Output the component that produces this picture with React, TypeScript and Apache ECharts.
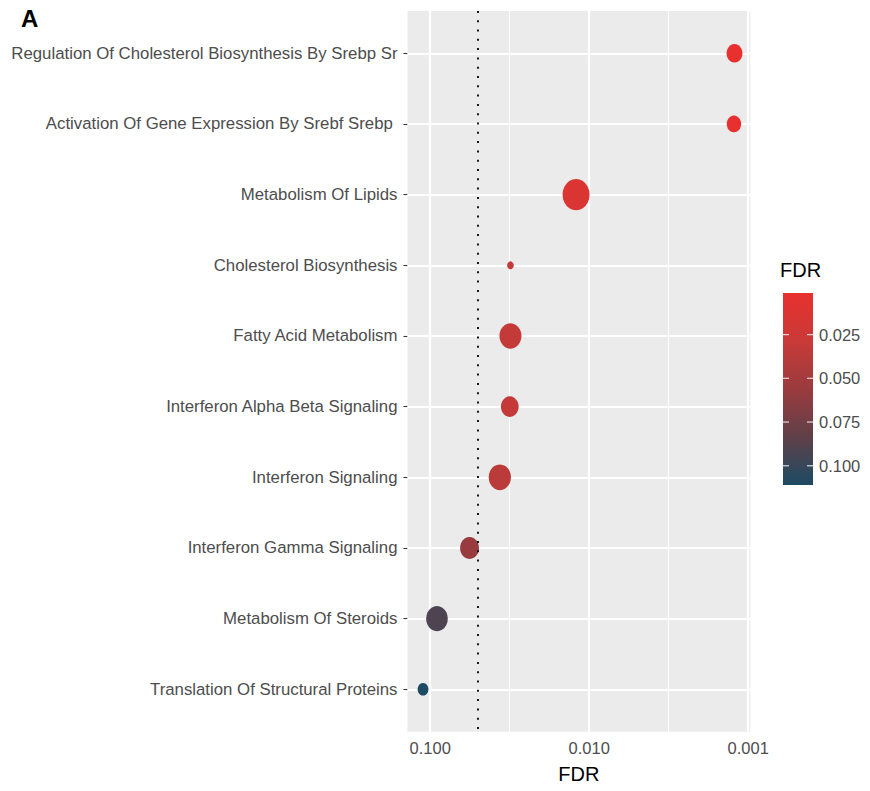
import React, { useEffect, useRef } from "react";
import * as echarts from "echarts";

// ---------- data ----------
const categories: string[] = [
  "Regulation Of Cholesterol Biosynthesis By Srebp Sr",
  "Activation Of Gene Expression By Srebf Srebp ",
  "Metabolism Of Lipids",
  "Cholesterol Biosynthesis",
  "Fatty Acid Metabolism",
  "Interferon Alpha Beta Signaling",
  "Interferon Signaling",
  "Interferon Gamma Signaling",
  "Metabolism Of Steroids",
  "Translation Of Structural Proteins",
];
const fdrValues: number[] = [0.00122, 0.00123, 0.0121, 0.0313, 0.0313, 0.0316, 0.0365, 0.0566, 0.0907, 0.111];
const geneCounts: number[] = [28, 23, 81, 5, 54, 35, 55, 40, 52, 13];
const xTickValues: number[] = [0.1, 0.01, 0.001];
const xMinorValues: number[] = [0.0316, 0.00316];
const fdrThreshold = 0.05;
const colorbarTicks: number[] = [0.025, 0.05, 0.075, 0.1];
const colorStops: string[] = ["#E8312F", "#C83A38", "#9A3B3E", "#604049", "#1C4B63"];

// ---------- helpers ----------
const negLog = (v: number) => -Math.log10(v);
const cMin = Math.min(...fdrValues);
const cMax = Math.max(...fdrValues);
const FONT = "'Liberation Sans', Arial, sans-serif";

export default function App() {
  const ref = useRef<HTMLDivElement>(null);
  useEffect(() => {
    if (!ref.current) return;
    const chart = echarts.init(ref.current, undefined, { renderer: "svg" });
    const points = fdrValues.map((f, i) => [negLog(f), i, f, geneCounts[i]]);
    const option: any = {
      animation: false,
      backgroundColor: "#ffffff",
      textStyle: { fontFamily: FONT },
      grid: [
        { left: 407.5, top: 10.9, width: 342.8, height: 720.8, show: true, backgroundColor: "#EBEBEB", borderWidth: 0 },
        { left: 783, top: 293, width: 30, height: 192, show: false },
      ],
      xAxis: [
        {
          type: "value",
          gridIndex: 0,
          min: 0.857,
          max: 3.013,
          name: "FDR",
          nameLocation: "middle",
          nameGap: 32,
          nameTextStyle: { color: "#000000", fontSize: 20, fontFamily: FONT },
          axisLine: { show: false },
          axisTick: { show: true, length: 4, lineStyle: { color: "#333333", width: 1.1 }, customValues: xTickValues.map(negLog) },
          axisLabel: {
            customValues: xTickValues.map(negLog),
            formatter: (v: number) => Math.pow(10, -v).toFixed(3),
            color: "#4D4D4D",
            fontSize: 16.5,
            margin: 8,
            fontFamily: FONT,
          },
          splitLine: { show: false },
        },
        { type: "value", gridIndex: 1, show: false, min: 0, max: 1 },
      ],
      yAxis: [
        {
          type: "value",
          gridIndex: 0,
          min: -0.6,
          max: categories.length - 1 + 0.6,
          inverse: true,
          axisLine: { show: false },
          axisTick: { show: true, length: 4, lineStyle: { color: "#333333", width: 1.1 }, customValues: categories.map((_, i) => i) },
          axisLabel: {
            customValues: categories.map((_, i) => i),
            formatter: (v: number) => categories[Math.round(v)],
            color: "#4D4D4D",
            fontSize: 16.8,
            margin: 10,
            fontFamily: FONT,
          },
          splitLine: { show: false },
        },
        {
          type: "value",
          gridIndex: 1,
          position: "right",
          min: cMin,
          max: cMax,
          inverse: true,
          axisLine: { show: false },
          axisTick: { show: false },
          axisLabel: {
            customValues: colorbarTicks,
            formatter: (v: number) => v.toFixed(3),
            color: "#4D4D4D",
            fontSize: 16.5,
            margin: 6,
            fontFamily: FONT,
          },
          splitLine: { show: false },
        },
      ],
      visualMap: {
        type: "continuous",
        show: false,
        min: cMin,
        max: cMax,
        dimension: 2,
        seriesIndex: 0,
        inRange: { color: colorStops },
      },
      graphic: [
        { type: "text", left: 21, top: 6, style: { text: "A", font: `bold 24px ${FONT}`, fill: "#000000" } },
        { type: "text", left: 780, top: 260, style: { text: "FDR", font: `20px ${FONT}`, fill: "#000000" } },
      ],
      series: [
        {
          type: "scatter",
          xAxisIndex: 0,
          yAxisIndex: 0,
          z: 5,
          data: points,
          symbol: "circle",
          symbolSize: (val: number[]) => {
            const d = 3 * Math.sqrt(val[3]);
            return [d, d * 1.16];
          },
          itemStyle: { opacity: 1 },
          markLine: {
            silent: true,
            z: 1,
            symbol: ["none", "none"],
            label: { show: false },
            lineStyle: { color: "#ffffff", type: "solid", width: 2.2 },
            data: [
              ...xTickValues.map((v) => ({ xAxis: negLog(v), lineStyle: { color: "#ffffff", type: "solid", width: 2.2 } })),
              ...xMinorValues.map((v) => ({ xAxis: negLog(v), lineStyle: { color: "#ffffff", type: "solid", width: 1.1 } })),
              ...categories.map((_, i) => ({ yAxis: i, lineStyle: { color: "#ffffff", type: "solid", width: 2.2 } })),
            ],
          },
        },
        {
          type: "scatter",
          xAxisIndex: 0,
          yAxisIndex: 0,
          z: 9,
          data: [],
          markLine: {
            silent: true,
            z: 9,
            symbol: ["none", "none"],
            label: { show: false },
            data: [{ xAxis: negLog(fdrThreshold), lineStyle: { color: "#000000", type: [2, 7.3], width: 1.8 } }],
          },
        },
        {
          type: "custom",
          xAxisIndex: 1,
          yAxisIndex: 1,
          silent: true,
          data: [[0]],
          renderItem: (_params: any, api: any) => {
            const tl = api.coord([0, cMin]);
            const br = api.coord([1, cMax]);
            const w = br[0] - tl[0];
            const children: any[] = [
              {
                type: "rect",
                shape: { x: tl[0], y: tl[1], width: w, height: br[1] - tl[1] },
                style: {
                  fill: new echarts.graphic.LinearGradient(
                    0, 0, 0, 1,
                    colorStops.map((c, i) => ({ offset: i / (colorStops.length - 1), color: c }))
                  ),
                },
              },
            ];
            colorbarTicks.forEach((t) => {
              const y = api.coord([0, t])[1];
              children.push({ type: "line", shape: { x1: tl[0], y1: y, x2: tl[0] + w * 0.2, y2: y }, style: { stroke: "#ffffff", lineWidth: 1.2, opacity: 0.8 } });
              children.push({ type: "line", shape: { x1: br[0] - w * 0.2, y1: y, x2: br[0], y2: y }, style: { stroke: "#ffffff", lineWidth: 1.2, opacity: 0.8 } });
            });
            return { type: "group", children };
          },
        },
      ],
    };
    chart.setOption(option);
    return () => chart.dispose();
  }, []);
  return <div ref={ref} style={{ position: "fixed", left: 0, top: 0, width: 870, height: 791 }} />;
}
